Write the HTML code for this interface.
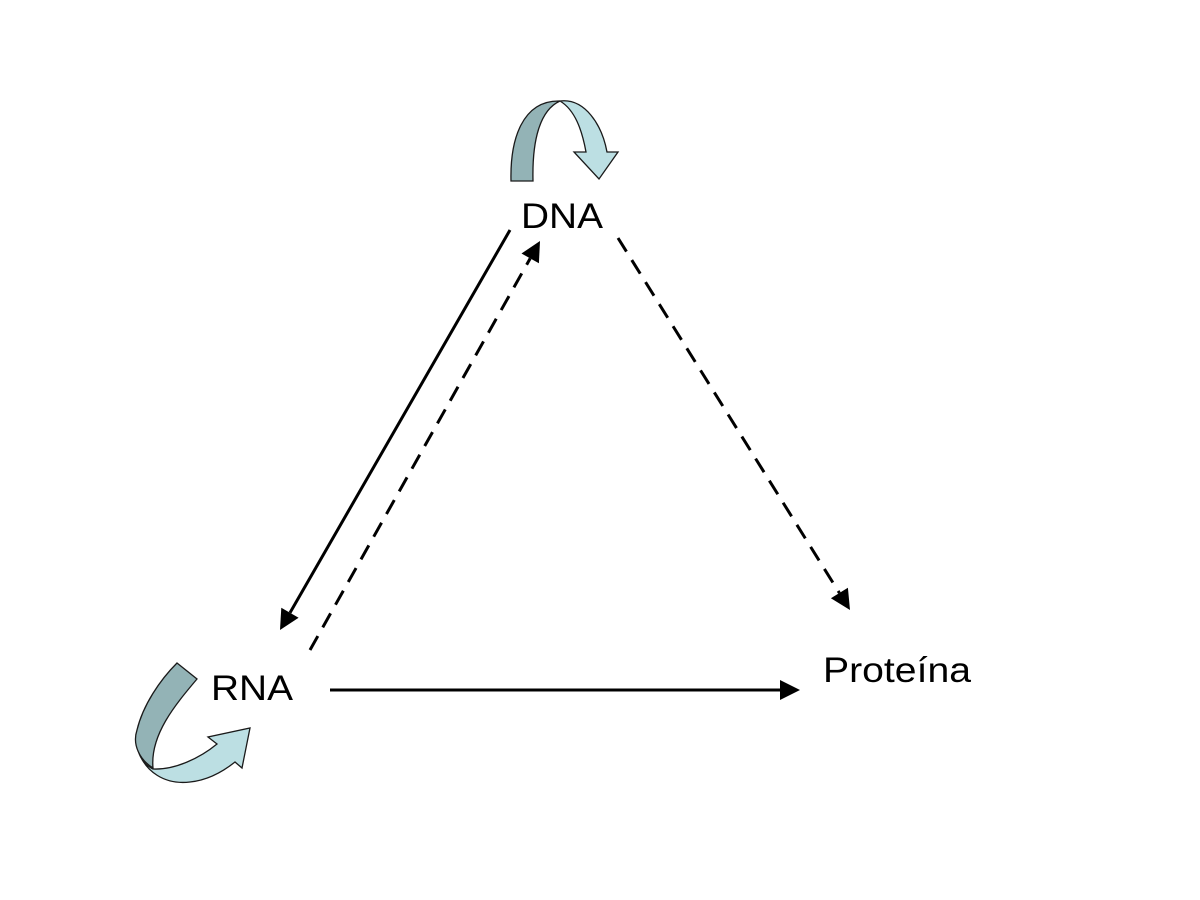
<!DOCTYPE html>
<html>
<head>
<meta charset="utf-8">
<style>
  html, body { margin: 0; padding: 0; background: #ffffff; }
  svg { display: block; }
  text { font-family: "Liberation Sans", Arial, sans-serif; fill: #000; }
</style>
</head>
<body>
<svg width="1200" height="900" viewBox="0 0 1200 900" xmlns="http://www.w3.org/2000/svg">
  <rect x="0" y="0" width="1200" height="900" fill="#ffffff"/>

  <!-- DNA curved self arrow -->
  <path d="M 560,101 C 585,98 602,125 607,152 L 618,152 L 599,179 L 574,152 L 586,152 C 582,130 575,110 560,101 Z"
        fill="#bcdfe3" stroke="#1a1a1a" stroke-width="1.3" stroke-linejoin="miter"/>
  <path d="M 511,181 C 510,140 522,100 560,101 C 540,110 532,140 533,181 Z"
        fill="#93b3b6" stroke="#1a1a1a" stroke-width="1.3"/>

  <!-- RNA curved self arrow -->
  <path d="M 138,750 C 145,772 165,785 190,782 C 210,780 225,770 235,762 L 242,768 L 250,728 L 208,737 L 217,744 C 200,758 175,770 153,769 C 145,765 140,758 138,750 Z"
        fill="#bcdfe3" stroke="#1a1a1a" stroke-width="1.3"/>
  <path d="M 177,663 L 197,679 C 175,705 150,735 153,768 C 140,760 132,745 137,730 C 143,705 160,680 177,663 Z"
        fill="#93b3b6" stroke="#1a1a1a" stroke-width="1.3"/>

  <!-- Solid DNA -> RNA -->
  <line x1="510" y1="230" x2="290" y2="612.7" stroke="#000" stroke-width="3"/>
  <polygon points="280,630 298.6,617.7 281.3,607.7" fill="#000"/>

  <!-- Dashed RNA -> DNA -->
  <line x1="310" y1="650" x2="530.2" y2="258.4" stroke="#000" stroke-width="3" stroke-dasharray="16 10"/>
  <polygon points="540,241 538.9,263.3 521.5,253.5" fill="#000"/>

  <!-- Dashed DNA -> Proteina -->
  <line x1="618" y1="238" x2="839.4" y2="593" stroke="#000" stroke-width="3" stroke-dasharray="16 10"/>
  <polygon points="850,610 847.9,587.7 830.9,598.3" fill="#000"/>

  <!-- Solid RNA -> Proteina -->
  <line x1="330" y1="690" x2="782" y2="690" stroke="#000" stroke-width="3"/>
  <polygon points="800,690 780,680 780,700" fill="#000"/>

  <!-- Labels -->
  <text x="521" y="228" font-size="35" textLength="82" lengthAdjust="spacingAndGlyphs">DNA</text>
  <text x="211" y="700" font-size="35" textLength="82" lengthAdjust="spacingAndGlyphs">RNA</text>
  <text x="823" y="682" font-size="35" textLength="148" lengthAdjust="spacingAndGlyphs">Proteína</text>
</svg>
</body>
</html>
